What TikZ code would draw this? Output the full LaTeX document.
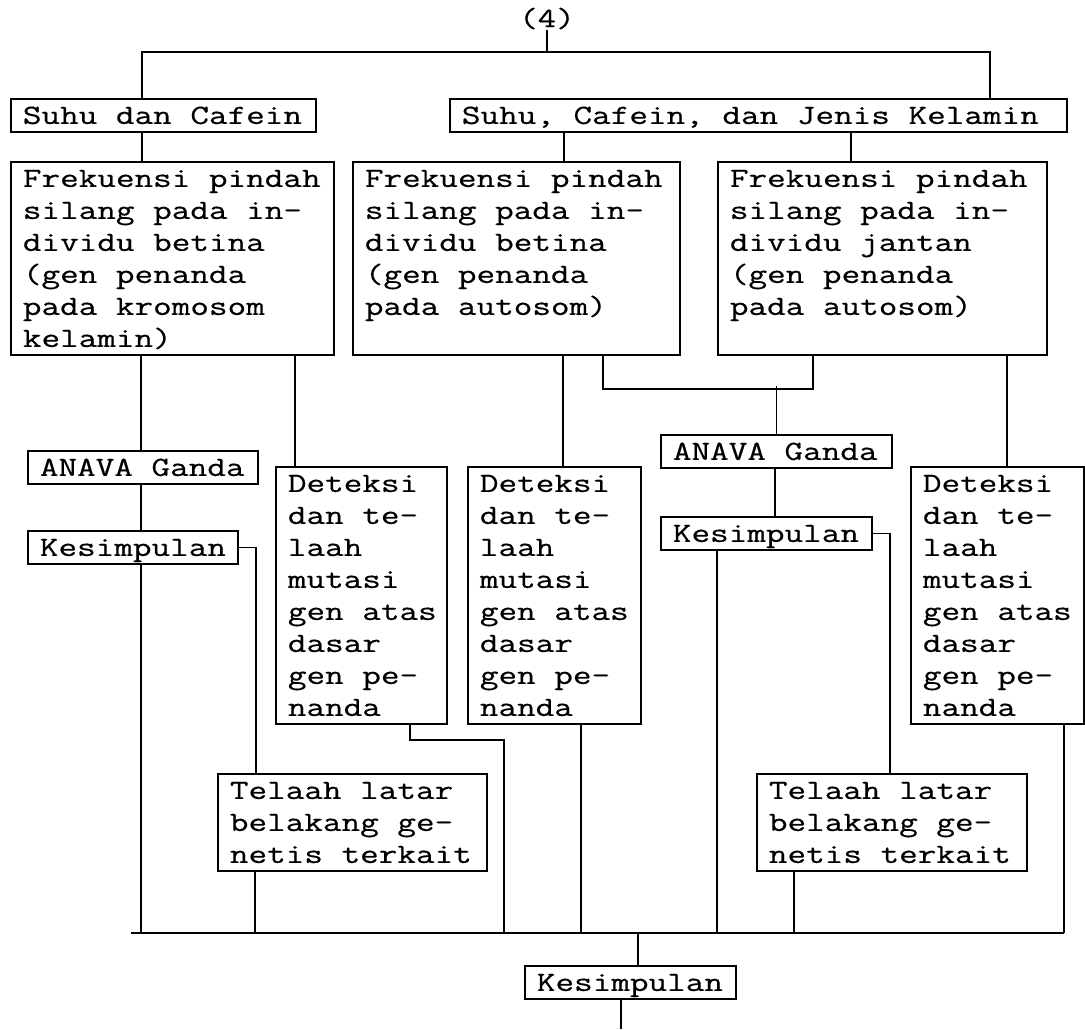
\documentclass[tikz,border=0pt]{standalone}
\usepackage{fontspec}
\setmonofont{Latin Modern Mono}[FakeStretch=1.3,FakeBold=0.5]
\usetikzlibrary{calc}
\newcommand\diafont{\fontsize{13.9}{16}\selectfont\ttfamily\lineskiplimit=-50pt\relax\lineskip=0pt\relax}
\newcommand\bt[3]{\parbox[c][\dimexpr16pt*#2+0.5pt\relax][t]{\dimexpr#1pt/2\relax}{\raggedright\leftskip=6pt\relax\rule{0pt}{12.5pt}#3}}
\tikzset{
  txt/.style={font=\diafont},
  bx/.style={txt, draw, line width=0.9pt, inner sep=0pt, anchor=north west},
  ln/.style={line width=0.9pt},
}
\begin{document}
\begin{tikzpicture}[x=0.5pt,y=-0.5pt]
\useasboundingbox (0,0) rectangle (1085,1029);
\node[txt, anchor=base, inner sep=0pt] (title) at (547,27) {(4)};
\node[bx] (s1) at (10,98) {\bt{305}{1}{Suhu dan Cafein}};
\node[bx] (s2) at (449,98) {\bt{617}{1}{Suhu, Cafein, dan Jenis Kelamin}};
\node[bx] (f1) at (10,161) {\bt{323}{6}{Frekuensi pindah\\silang pada in-\\dividu betina\\(gen penanda\\pada kromosom\\kelamin)}};
\node[bx] (f2) at (352,161) {\bt{327}{6}{Frekuensi pindah\\silang pada in-\\dividu betina\\(gen penanda\\pada autosom)}};
\node[bx] (f3) at (717,161) {\bt{329}{6}{Frekuensi pindah\\silang pada in-\\dividu jantan\\(gen penanda\\pada autosom)}};
\node[bx] (a1) at (27,450) {\bt{230}{1}{ANAVA Ganda}};
\node[bx] (k1) at (27,530) {\bt{210}{1}{Kesimpulan}};
\node[bx] (d1) at (275,466) {\bt{171}{8}{Deteksi\\dan te-\\laah\\mutasi\\gen atas\\dasar\\gen pe-\\nanda}};
\node[bx] (d2) at (467,466) {\bt{173}{8}{Deteksi\\dan te-\\laah\\mutasi\\gen atas\\dasar\\gen pe-\\nanda}};
\node[bx] (d3) at (910,466) {\bt{173}{8}{Deteksi\\dan te-\\laah\\mutasi\\gen atas\\dasar\\gen pe-\\nanda}};
\node[bx] (a2) at (660,434) {\bt{231}{1}{ANAVA Ganda}};
\node[bx] (k2) at (660,516) {\bt{211}{1}{Kesimpulan}};
\node[bx] (t1) at (217,773) {\bt{269}{3}{Telaah latar\\belakang ge-\\netis terkait}};
\node[bx] (t2) at (756,773) {\bt{270}{3}{Telaah latar\\belakang ge-\\netis terkait}};
\node[bx] (k3) at (524,965) {\bt{211}{1}{Kesimpulan}};
\coordinate (j0) at (547,52);
\coordinate (busL) at (131,933);
\coordinate (busR) at (1064,933);
\coordinate (bend) at (621,1029);
\draw[ln] (title.south) -- (j0);
\draw[ln] ($(s1.north west)+(132,0)$) |- (j0) -| ($(s2.north west)+(541,0)$);
\draw[ln] ($(s1.south west)+(132,0)$) coordinate (p) -- (p |- f1.north);
\draw[ln] ($(s2.south west)+(115,0)$) coordinate (p) -- (p |- f2.north);
\draw[ln] ($(s2.south west)+(402,0)$) coordinate (p) -- (p |- f3.north);
\draw[ln] ($(f1.south west)+(131,0)$) coordinate (p) -- (p |- a1.north);
\draw[ln] ($(a1.south west)+(114,0)$) coordinate (p) -- (p |- k1.north);
\draw[ln] ($(k1.south west)+(114,0)$) coordinate (p) -- (p |- busL);
\draw[ln] (k1.east) -| ($(t1.north west)+(39,0)$);
\draw[ln] ($(t1.south west)+(38,0)$) coordinate (p) -- (p |- busL);
\draw[ln] ($(f1.south west)+(285,0)$) coordinate (p) -- (p |- d1.north);
\draw[ln] ($(d1.south west)+(135,0)$) -- ++(0,15) -| ($(busL)+(373,0)$);
\draw[ln] ($(f2.south west)+(211,0)$) coordinate (p) -- (p |- d2.north);
\draw[ln] ($(d2.south west)+(114,0)$) coordinate (p) -- (p |- busL);
\draw[ln] ($(f2.south west)+(251,0)$) -- ++(0,33) -| ($(f3.south west)+(96,0)$);
\draw[ln] (a2.north) -- ++(0,-48);
\draw[ln] ($(a2.south west)+(115,0)$) coordinate (p) -- (p |- k2.north);
\draw[ln] ($(k2.south west)+(57,0)$) coordinate (p) -- (p |- busL);
\draw[ln] (k2.east) -| ($(t2.north west)+(134,0)$);
\draw[ln] ($(t2.south west)+(38,0)$) coordinate (p) -- (p |- busL);
\draw[ln] ($(f3.south west)+(290,0)$) coordinate (p) -- (p |- d3.north);
\draw[ln] ($(d3.south west)+(154,0)$) -- (busR);
\draw[ln] (busL) -- (busR);
\draw[ln] ($(k3.north west)+(114,0)$) coordinate (p) -- (p |- busL);
\draw[ln] ($(k3.south west)+(97,0)$) -- (bend);
\end{tikzpicture}
\end{document}
